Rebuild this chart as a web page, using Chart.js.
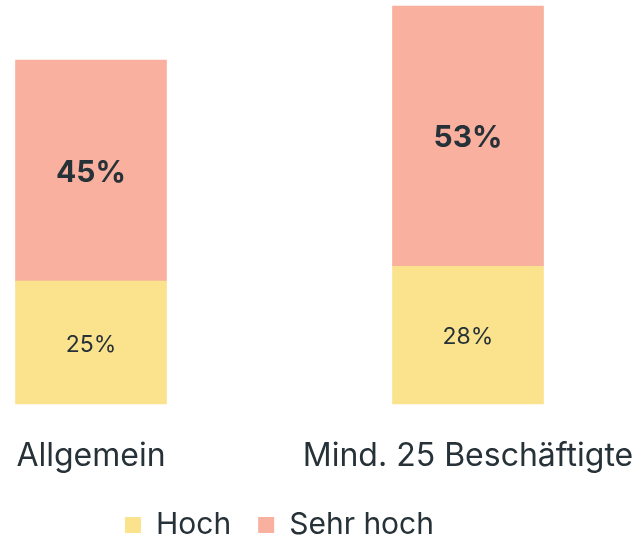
<!DOCTYPE html>
<html>
<head>
<meta charset="utf-8">
<script src="https://cdn.jsdelivr.net/npm/chart.js@4/dist/chart.umd.min.js"></script>
<style>
  body { margin: 0; background: #fff; }
  #wrap { width: 641px; height: 540px; }
</style>
</head>
<body>
<div id="wrap"><canvas id="myChart"></canvas></div>
<script>
// data
var categories = ["Allgemein", "Mind. 25 Beschäftigte"];
var hoch = [25, 28];
var sehrHoch = [45, 53];

var textColor = '#263238';
var fontFamily = "Inter, 'Open Sans', sans-serif";

// labels in the middle of each bar segment
var barLabels = {
  id: 'barLabels',
  afterDatasetsDraw: function (chart) {
    var ctx = chart.ctx;
    chart.data.datasets.forEach(function (ds, i) {
      var meta = chart.getDatasetMeta(i);
      meta.data.forEach(function (bar, j) {
        var c = bar.getCenterPoint();
        ctx.save();
        ctx.fillStyle = textColor;
        ctx.textAlign = 'center';
        ctx.textBaseline = 'middle';
        ctx.font = (i == 1 ? 'bold 30px ' : '23px ') + fontFamily;
        ctx.fillText(ds.data[j] + '%', c.x, c.y + 2);
        ctx.restore();
      });
    });
  }
};

// fixed legend height, item spacing stays as is
var legendFit = {
  id: 'legendFit',
  beforeUpdate: function (chart) {
    var lg = chart.legend;
    if (lg && !lg._fitPatched) {
      var orig = lg.fit;
      lg.fit = function () {
        orig.call(this);
        this.height = 57;
      };
      lg._fitPatched = true;
    }
  }
};

var ctx = document.getElementById('myChart').getContext('2d');
var chart = new Chart(ctx, {
  type: 'bar',
  data: {
    labels: categories,
    datasets: [{
      label: "Hoch",
      data: hoch,
      backgroundColor: '#fbe38e',
      barThickness: 151,
      clip: false
    }, {
      label: "Sehr hoch",
      data: sehrHoch,
      backgroundColor: '#f9b09e',
      barThickness: 151,
      clip: false
    }]
  },
  options: {
    responsive: true,
    maintainAspectRatio: false,
    animation: false,
    layout: { padding: { left: 91, right: 173, top: 6, bottom: 0 } },
    scales: {
      x: {
        stacked: true,
        offset: false,
        grid: { display: false },
        border: { display: false },
        ticks: {
          color: textColor,
          font: { family: fontFamily, size: 32 },
          padding: 25,
          maxRotation: 0,
          autoSkip: false
        },
        afterFit: function (scale) {
          scale.paddingLeft = 0;
          scale.paddingRight = 0;
          scale.height = 79;
        }
      },
      y: {
        stacked: true,
        display: false,
        min: 0,
        max: 81
      }
    },
    plugins: {
      tooltip: { enabled: false },
      legend: {
        position: 'bottom',
        labels: {
          color: textColor,
          boxWidth: 16,
          boxHeight: 16,
          padding: 27,
          font: { family: fontFamily, size: 30 }
        }
      }
    }
  },
  plugins: [legendFit, barLabels]
});
</script>
</body>
</html>
